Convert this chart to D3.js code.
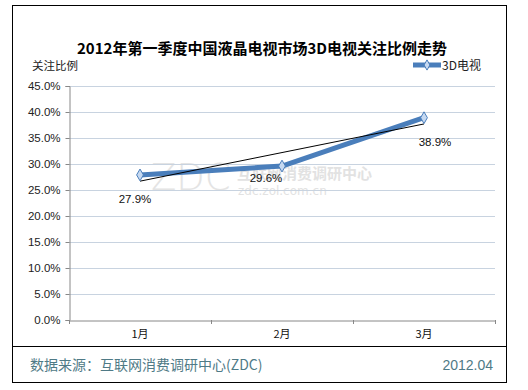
<!DOCTYPE html>
<html><head><meta charset="utf-8">
<script src="https://cdn.jsdelivr.net/npm/d3@7"></script>
<style>body{margin:0;background:#fff}svg{display:block}</style>
</head><body>
<script>
const months = ["1月", "2月", "3月"];
const values = [27.9, 29.6, 38.9];
const trendValues = [26.7, 37.7];
const yTicks = [0, 5, 10, 15, 20, 25, 30, 35, 40, 45];
const seriesName = "3D电视";
const title = "2012年第一季度中国液晶电视市场3D电视关注比例走势";
const yTitle = "关注比例";
const source = "数据来源：互联网消费调研中心(ZDC)";
const dateText = "2012.04";

const W = 528, H = 390;
const svg = d3.select("body").append("svg").attr("width", W).attr("height", H);
const font = "'Noto Sans CJK SC','Noto Sans',sans-serif";

svg.append("rect").attr("x", 12.5).attr("y", 5.5).attr("width", 494).attr("height", 377)
  .attr("fill", "#fff").attr("stroke", "#000").attr("stroke-width", 1);
svg.append("line").attr("x1", 13).attr("x2", 506).attr("y1", 346.5).attr("y2", 346.5)
  .attr("stroke", "#000");

const x = d3.scaleBand().domain(months).range([69, 495]);
const y = d3.scaleLinear().domain([0, 45]).range([320, 86]);

// watermark
const wm = svg.append("g").attr("font-family", font);
wm.append("text").attr("x", 151).attr("y", 190).attr("font-size", 37).attr("font-family", "'DejaVu Sans',sans-serif")
  .attr("font-weight", 200).attr("fill", "#e4e4e4").text("ZDC");
wm.append("text").attr("x", 237).attr("y", 179).attr("font-size", 15).attr("font-weight", "bold")
  .attr("fill", "#e2e2e2").text("互联网消费调研中心");
wm.append("text").attr("x", 238).attr("y", 195).attr("font-size", 12).attr("font-family", "'DejaVu Sans',sans-serif")
  .attr("fill", "#e2e2e2").text("zdc.zol.com.cn");

// grid
svg.append("g").selectAll("line").data(yTicks.filter(d => d > 0)).join("line")
  .attr("x1", 69).attr("x2", 495).attr("y1", d => Math.round(y(d)) + 0.5).attr("y2", d => Math.round(y(d)) + 0.5)
  .attr("stroke", "#c8d3e0").attr("stroke-width", 1);

// y axis
const yAxis = svg.append("g").attr("transform", "translate(69.5,0)")
  .call(d3.axisLeft(y).tickValues(yTicks).tickSize(4).tickFormat(d => d.toFixed(1) + "%"));
yAxis.select(".domain").attr("stroke", "#888");
yAxis.selectAll(".tick line").attr("stroke", "#888");
yAxis.selectAll("text").attr("font-family", "'Liberation Sans',sans-serif").attr("font-size", 11.5)
  .attr("fill", "#222").attr("x", -9);

// x axis
const xAxis = svg.append("g").attr("transform", "translate(0,320.5)")
  .call(d3.axisBottom(x).tickSize(0).tickPadding(10));
xAxis.select(".domain").attr("stroke", "#888");
xAxis.selectAll("text").attr("font-family", font).attr("font-size", 11).attr("fill", "#111");
const bounds = [69, ...months.map(m => x(m) + x.bandwidth())];
svg.append("g").selectAll("line").data(bounds).join("line")
  .attr("x1", d => Math.round(d) + 0.5).attr("x2", d => Math.round(d) + 0.5)
  .attr("y1", 320).attr("y2", 324).attr("stroke", "#888");

const cx = m => x(m) + x.bandwidth() / 2;

// series line
const line = d3.line().x((d, i) => cx(months[i])).y(d => y(d));
svg.append("path").datum(values).attr("d", line).attr("fill", "none")
  .attr("stroke", "#4a7ebb").attr("stroke-width", 5).attr("stroke-linejoin", "round");

// trend line
svg.append("line").attr("x1", cx(months[0])).attr("x2", cx(months[2]))
  .attr("y1", y(trendValues[0])).attr("y2", y(trendValues[1]))
  .attr("stroke", "#000").attr("stroke-width", 1);

// markers
const diamond = d3.symbol().type(d3.symbolDiamond).size(40);
svg.append("g").selectAll("path").data(values).join("path")
  .attr("d", diamond).attr("transform", (d, i) => `translate(${cx(months[i])},${y(d)})`)
  .attr("fill", "#c6d9f1").attr("stroke", "#4a7ebb").attr("stroke-width", 1);

// data labels
const labelPos = [[-5, 28], [-16, 16], [11, 28]];
svg.append("g").selectAll("text").data(values).join("text")
  .attr("x", (d, i) => cx(months[i]) + labelPos[i][0]).attr("y", (d, i) => y(d) + labelPos[i][1])
  .attr("text-anchor", "middle").attr("font-family", "'Liberation Sans',sans-serif").attr("font-size", 11.5)
  .attr("fill", "#111").text(d => d.toFixed(1) + "%");

// title
svg.append("text").attr("x", 262).attr("y", 54).attr("text-anchor", "middle")
  .attr("font-family", font).attr("font-weight", "bold").attr("font-size", 15).attr("fill", "#000").text(title);

svg.append("text").attr("x", 32).attr("y", 70).attr("font-family", font).attr("font-size", 11.5)
  .attr("fill", "#222").text(yTitle);

// legend
svg.append("line").attr("x1", 413).attr("x2", 441).attr("y1", 65).attr("y2", 65)
  .attr("stroke", "#4a7ebb").attr("stroke-width", 5);
svg.append("path").attr("d", d3.symbol().type(d3.symbolDiamond).size(30)).attr("transform", "translate(427,65)")
  .attr("fill", "#c6d9f1").attr("stroke", "#4a7ebb");
svg.append("text").attr("x", 442).attr("y", 70).attr("font-family", font).attr("font-size", 12)
  .attr("fill", "#222").text(seriesName);

// footer
svg.append("text").attr("x", 30).attr("y", 370).attr("font-family", font).attr("font-size", 14)
  .attr("fill", "#4f7a86").text(source);
svg.append("text").attr("x", 493).attr("y", 370).attr("text-anchor", "end").attr("font-family", "'Liberation Sans',sans-serif")
  .attr("font-size", 14).attr("fill", "#4f7a86").text(dateText);
</script>
</body></html>
